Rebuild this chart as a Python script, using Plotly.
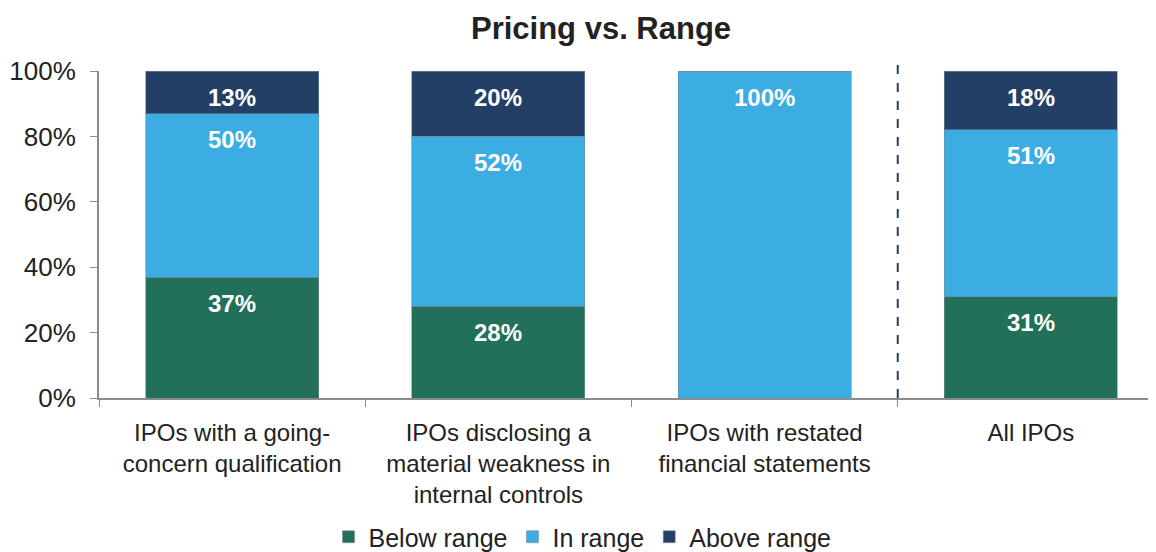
import plotly.graph_objects as go

categories = [
    'IPOs with a going-<br>concern qualification',
    'IPOs disclosing a<br>material weakness in<br>internal controls',
    'IPOs with restated<br>financial statements',
    'All IPOs',
]
below_range = [37, 28, 0, 31]
in_range = [50, 52, 100, 51]
above_range = [13, 20, 0, 18]
y_ticks = [0, 20, 40, 60, 80, 100]

series = [
    ('Below range', below_range, '#23705a'),
    ('In range', in_range, '#3badE2'),
    ('Above range', above_range, '#243f66'),
]

fig = go.Figure()

base = [0] * len(categories)
for name, values, color in series:
    fig.add_trace(
        go.Bar(
            name=name,
            x=categories,
            y=values,
            marker=dict(color=color, line=dict(color='rgba(120,140,160,0.6)', width=1)),
            width=0.65,
            hoverinfo='skip',
        )
    )
    # value labels sit just below the top of each segment
    for i, v in enumerate(values):
        base[i] += v
        if v > 0:
            fig.add_annotation(
                x=categories[i], y=base[i], text=f'<b>{v}%</b>',
                showarrow=False, yanchor='middle', yshift=-26,
                font=dict(family='Liberation Sans, Arial', size=24, color='white'),
            )

# dashed divider between the subsets and the overall figure
fig.add_shape(
    type='line', xref='x', yref='paper',
    x0=2.5, x1=2.5, y0=0, y1=1.035,
    line=dict(color='#243f66', width=2, dash='dash'),
)

fig.update_layout(
    barmode='stack',
    width=1156,
    height=552,
    margin=dict(l=91, r=0, t=63, b=161),
    paper_bgcolor='white',
    plot_bgcolor='white',
    font=dict(family='Liberation Sans, Arial', size=25, color='#222222'),
    title=dict(
        text='<b>Pricing vs. Range</b>',
        x=0.513, xanchor='center', y=0.964, yanchor='middle',
        font=dict(size=31, color='#222222'),
    ),
    legend=dict(
        orientation='h', x=0.454, xanchor='center', y=-0.424, yanchor='middle',
        font=dict(size=25), itemwidth=30, traceorder='normal',
    ),
    xaxis=dict(
        showline=True, linecolor='#8c8c8c', linewidth=2,
        ticks='outside', tickson='boundaries', ticklen=7, tickcolor='#8c8c8c',
        tickfont=dict(size=24), showgrid=False, ticklabelstandoff=12,
    ),
    yaxis=dict(
        range=[0, 100], tickmode='array', tickvals=y_ticks,
        ticktext=[f'{t}%' for t in y_ticks],
        showline=True, linecolor='#8c8c8c', linewidth=2,
        ticks='outside', ticklen=7, tickcolor='#8c8c8c',
        tickfont=dict(size=26), showgrid=False, zeroline=False,
        ticklabelstandoff=9,
    ),
)

fig.write_html('out.html')
